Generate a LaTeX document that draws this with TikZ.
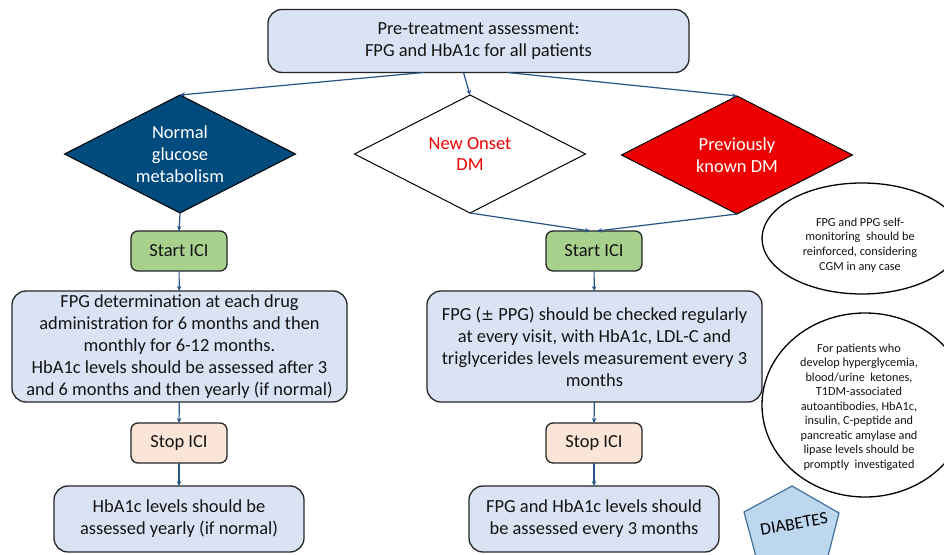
\documentclass[tikz,border=0pt]{standalone}
\usepackage{fontspec}
\setmainfont{Carlito}
\usetikzlibrary{shapes.geometric,arrows.meta,calc}
\definecolor{boxblue}{RGB}{218,227,243}
\definecolor{navy}{RGB}{0,75,125}
\definecolor{ddred}{RGB}{238,0,0}
\definecolor{startgreen}{RGB}{169,209,142}
\definecolor{stoppeach}{RGB}{251,229,214}
\definecolor{arrblue}{RGB}{38,84,133}
\definecolor{txt}{RGB}{20,20,20}
\definecolor{pentblue}{RGB}{189,215,238}
\definecolor{pentedge}{RGB}{65,113,156}
\tikzset{
  box/.style={draw=black!85, line width=1.3bp, fill=boxblue, rounded corners=14bp,
    align=center, text=txt, font=\fontsize{18.5}{22}\selectfont, inner sep=0pt, outer sep=0pt},
  smallbox/.style={box, rounded corners=7bp, minimum width=96bp, minimum height=40bp},
  diam/.style={diamond, shape aspect=2, draw=black, line width=1bp, minimum width=231bp,
    minimum height=118bp, inner sep=0pt, outer sep=0pt, align=center,
    font=\fontsize{18.5}{22}\selectfont},
  oval/.style={ellipse, draw=black, line width=1.3bp, fill=white, inner sep=0pt},
  smalltext/.style={align=center, text=txt, font=\fontsize{12.3}{14.6}\selectfont},
  arr/.style={draw=arrblue, line width=1.2bp, -{Stealth[length=5bp,width=4.5bp]}}
}
\begin{document}
\begin{tikzpicture}[x=1bp,y=-1bp]
\useasboundingbox (0,0) rectangle (944,555);
\clip (0,0) rectangle (944,555);
\fill[white] (0,0) rectangle (944,555);

% top box
\node[box, minimum width=421bp, minimum height=63bp] (top) at (478.5,41)
  {Pre-treatment assessment:\\FPG and HbA1c for all patients};

% diamonds
\node[diam, fill=navy, text=white] (d1) at (180,154) {Normal\\glucose\\metabolism};
\node[diam, fill=white, text=ddred] (d2) at (470,154) {New Onset\\DM};
\node[diam, fill=ddred, text=white] (d3) at (737,155) {Previously\\known DM};

% left column
\node[smallbox, fill=startgreen] (s1) at (179,251) {Start ICI};
\node[box, minimum width=335bp, minimum height=111bp] (b1) at (179.5,346.5)
  {FPG determination at each drug\\administration for 6 months and then\\monthly for 6-12 months.\\HbA1c levels should be assessed after 3\\and 6 months and then yearly (if normal)};
\node[smallbox, fill=stoppeach] (p1) at (179,443) {Stop ICI};
\node[box, minimum width=250bp, minimum height=66bp] (e1) at (179,519)
  {HbA1c levels should be\\assessed yearly (if normal)};

% right column
\node[smallbox, fill=startgreen] (s2) at (594,251) {Start ICI};
\node[box, minimum width=335bp, minimum height=111bp] (b2) at (594.5,346.5)
  {FPG ({\fontspec{DejaVu Sans}\fontsize{15.5}{22}\selectfont ±} PPG) should be checked regularly\\at every visit, with HbA1c, LDL-C and\\triglycerides levels measurement every 3\\months};
\node[smallbox, fill=stoppeach] (p2) at (594,443) {Stop ICI};
\node[box, minimum width=250bp, minimum height=66bp] (e2) at (594,519)
  {FPG and HbA1c levels should\\be assessed every 3 months};

% ellipses
\node[oval, minimum width=200bp, minimum height=111bp] (ov1) at (862,238.5) {};
\node[smalltext] (ov1t) at (860,245)
  {FPG and PPG self-\\monitoring\ \ should be\\reinforced, considering\\CGM in any case};
\node[oval, minimum width=206bp, minimum height=184bp] (ov2) at (865,405) {};
\node[smalltext] (ov2t) at (859,407)
  {For patients who\\develop hyperglycemia,\\blood/urine\ \ ketones,\\T1DM-associated\\autoantibodies, HbA1c,\\insulin, C-peptide and\\pancreatic amylase and\\lipase levels should be\\promptly\ \ investigated};

% pentagon
\draw[fill=pentblue, draw=pentedge, line width=1.2bp]
  (792,486) -- (839,513) -- (826,564) -- (758,564) -- (744,512) -- cycle;
\node[rotate=10, text=black, font=\fontsize{17.5}{20}\selectfont] (diab) at (794,524) {DIABETES};

% connectors
\draw[arr] ($(top.south)+(-55,0)$) -- (d1.north);
\draw[arr] ($(top.south)+(-15,0)$) -- (d2.north);
\draw[arr] ($(top.south)+(29,0)$) -- (d3.north);
\draw[arr] (d1.south) -- (s1.north);
\draw[arr] (d2.south) -- ($(s2.north)+(-4,0)$);
\draw[arr] (d3.south) -- ($(s2.north)+(3,0)$);
\draw[arr] (s1) -- (b1);
\draw[arr] (b1) -- (p1);
\draw[arr] (p1) -- (e1);
\draw[arr] (s2) -- (b2);
\draw[arr] (b2) -- (p2);
\draw[arr] (p2) -- (e2);
\end{tikzpicture}
\end{document}
